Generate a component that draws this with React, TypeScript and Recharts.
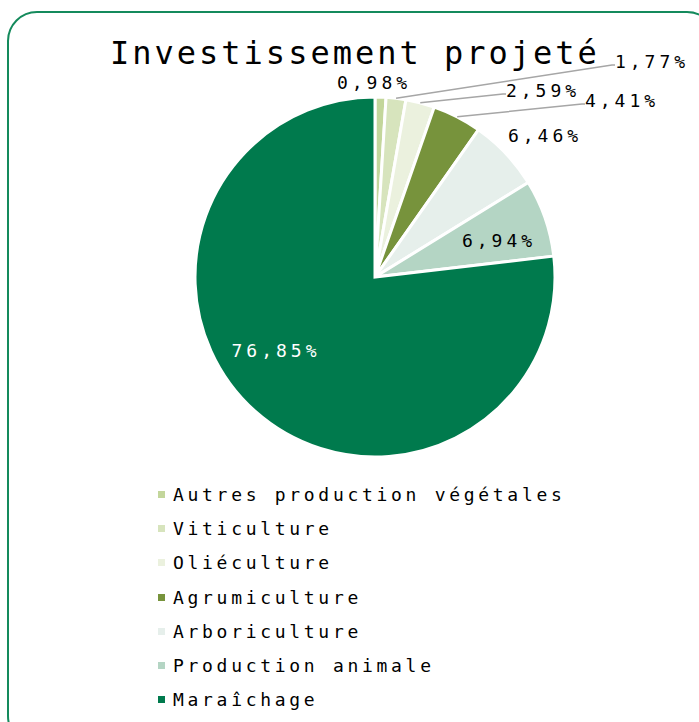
import { PieChart, Pie, Cell, Legend } from "recharts";

const categories = [
  "Autres production végétales",
  "Viticulture",
  "Oliéculture",
  "Agrumiculture",
  "Arboriculture",
  "Production animale",
  "Maraîchage",
];

const shares = [0.98, 1.77, 2.59, 4.41, 6.46, 6.94, 76.85];

const colors = ["#c3d69b", "#d7e4bd", "#ebf1de", "#77933c", "#e6efeb", "#b4d5c4", "#007a4d"];

const TITLE = "Investissement projeté";

// label placement, offsets from pie centre
const LABEL_POS: { dx: number; dy: number; line: boolean; fill: string }[] = [
  { dx: -1, dy: -195, line: false, fill: "#000" },
  { dx: 277, dy: -216, line: true, fill: "#000" },
  { dx: 168, dy: -187, line: true, fill: "#000" },
  { dx: 247, dy: -177, line: true, fill: "#000" },
  { dx: 170, dy: -142, line: false, fill: "#000" },
  { dx: 124, dy: -37, line: false, fill: "#000" },
  { dx: -99, dy: 73, line: false, fill: "#fff" },
];

const data = categories.map((name, i) => ({ name, value: shares[i] }));

const FONT = "'DejaVu Sans Mono', monospace";
const RAD = Math.PI / 180;

const fmt = (v: number) => v.toFixed(2).replace(".", ",") + "%";

function renderLabel(props: any) {
  const { cx, cy, midAngle, outerRadius, index, value } = props;
  const pos = LABEL_POS[index];
  const lx = cx + pos.dx;
  const ly = cy + pos.dy;
  const ax = cx + outerRadius * Math.cos(-midAngle * RAD);
  const ay = cy + outerRadius * Math.sin(-midAngle * RAD);
  return (
    <g key={`lbl-${index}`}>
      {pos.line && (
        <polyline
          points={`${ax},${ay} ${lx - 40},${ly + 4} ${lx - 37},${ly + 4}`}
          fill="none"
          stroke="#a6a6a6"
          strokeWidth={1.5}
        />
      )}
      <text
        x={lx}
        y={ly}
        textAnchor="middle"
        dominantBaseline="central"
        fill={pos.fill}
        fontFamily={FONT}
        fontSize={18}
        letterSpacing={4}
      >
        {fmt(value)}
      </text>
    </g>
  );
}

function renderLegend() {
  return (
    <div style={{ fontFamily: FONT, fontSize: 18, letterSpacing: 3.7, color: "#000" }}>
      {categories.map((c, i) => (
        <div key={c} style={{ display: "flex", alignItems: "center", height: 34.3 }}>
          <span
            style={{
              display: "inline-block",
              width: 7,
              height: 7,
              background: colors[i],
              marginRight: 8,
            }}
          />
          <span>{c}</span>
        </div>
      ))}
    </div>
  );
}

export default function App() {
  return (
    <div
      style={{
        position: "absolute",
        left: 0,
        top: 0,
        width: 699,
        height: 722,
        overflow: "hidden",
        background: "#fff",
      }}
    >
      <div
        style={{
          position: "absolute",
          left: 7,
          top: 11,
          width: 710,
          height: 735,
          border: "2.5px solid #148a5c",
          borderRadius: 30,
          boxSizing: "border-box",
        }}
      />
      <PieChart
        width={699}
        height={722}
        margin={{ top: 0, right: 0, bottom: 0, left: 0 }}
        style={{ position: "absolute", left: 0, top: 0 }}
      >
        <text
          x={110}
          y={64}
          fontFamily={FONT}
          fontSize={32}
          letterSpacing={3}
          fill="#000"
        >
          {TITLE}
        </text>
        <Pie
          data={data}
          dataKey="value"
          nameKey="name"
          cx={375}
          cy={277}
          outerRadius={180}
          startAngle={90}
          endAngle={-270}
          stroke="#fff"
          strokeWidth={3}
          label={renderLabel}
          labelLine={false}
          isAnimationActive={false}
        >
          {data.map((d, i) => (
            <Cell key={d.name} fill={colors[i]} />
          ))}
        </Pie>
        <Legend
          content={renderLegend}
          wrapperStyle={{ position: "absolute", left: 158, top: 477, width: 460, height: 245 }}
        />
      </PieChart>
    </div>
  );
}
